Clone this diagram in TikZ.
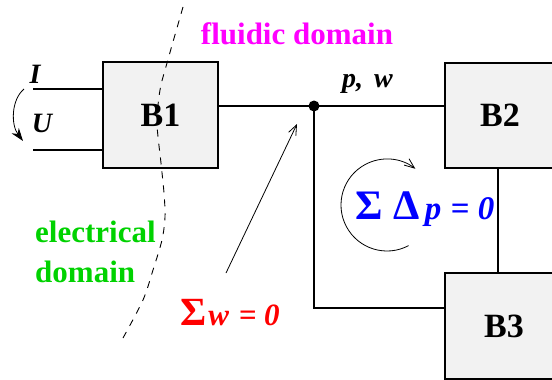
\documentclass[tikz,border=0pt]{standalone}
\usepackage{fontspec}
\setmainfont{Liberation Serif}
\usetikzlibrary{arrows.meta,calc}
\definecolor{boxgray}{RGB}{242,242,242}
\definecolor{elgreen}{RGB}{0,210,0}
\definecolor{flmag}{RGB}{255,0,255}
\definecolor{sumred}{RGB}{255,0,0}
\definecolor{sumblue}{RGB}{0,0,255}
\begin{document}
\begin{tikzpicture}[x=1pt,y=-1pt,
  block/.style={draw,line width=1.6pt,fill=boxgray,inner sep=0pt,
    font=\fontsize{34}{34}\selectfont\bfseries},
  wire/.style={line width=1.6pt},
  lbl/.style={inner sep=0pt,anchor=base},
  thinarrow/.style={line width=0.8pt,-{Straight Barb[length=10pt,width=8pt]}},
  bigfont/.style={font=\fontsize{31}{31}\selectfont\bfseries},
  varfont/.style={font=\fontsize{28}{28}\selectfont\bfseries\itshape}]
\useasboundingbox (0,0) rectangle (552,380);

% blocks
\node[block,minimum width=115pt,minimum height=106pt] (B1) at (160.5,115) {B1};
\node[block,minimum width=110pt,minimum height=105pt] (B2) at (500,115.5) {B2};
\node[block,minimum width=118pt,minimum height=106pt] (B3) at (504,326) {B3};

% electrical terminals
\coordinate (iL) at (33,89);
\coordinate (uL) at (33,150);
\draw[wire] (iL) -- (iL -| B1.west);
\draw[wire] (uL) -- (uL -| B1.west);

% fluidic network
\coordinate (j) at (314,106);
\coordinate (k) at (314,308);
\coordinate (m) at (498,0);
\draw[wire] (j -| B1.east) -- (j) -- (j -| B2.west);
\draw[wire] (j) -- (k) -- (k -| B3.west);
\draw[wire] (m |- B2.south) -- (m |- B3.north);
\fill (j) circle[radius=5.5];

% domain border
\draw[line width=0.9pt,dash pattern=on 7pt off 7pt]
  plot[smooth] coordinates {(183,7) (167,63) (160,90) (157,123) (161,163)
  (164,193) (165,217) (162,240) (153,270) (143,300) (123,338)};

% I/U arrow
\coordinate (ua) at (24,89);
\coordinate (ub) at (23,141);
\draw[line width=0.8pt,-{Stealth[length=13pt,width=9pt]}]
  (ua) .. controls (11,100) and (11,125) .. (ub);

% node-rule arrow
\coordinate (a0) at (226,273);
\coordinate (a1) at (297,124);
\draw[thinarrow] (a0) -- (a1);

% loop arrow
\coordinate (lc) at (387,205);
\draw[thinarrow] ([shift={(62:46)}]lc) arc[start angle=62,end angle=308,radius=46];

% labels
\node[lbl,varfont] (I) at (35,83) {I};
\node[lbl,varfont] (U) at (42,132) {U};
\node[lbl,font=\fontsize{28}{28}\selectfont\bfseries\itshape,anchor=base west] (pw) at (342,87) {p,\hspace{4pt} w};
\node[lbl,bigfont,text=flmag] (fl) at (297,45) {fluidic domain};
\node[lbl,bigfont,text=elgreen,anchor=base west] (el1) at (35,242) {electrical};
\node[lbl,bigfont,text=elgreen,anchor=base west] (el2) at (35,282) {domain};
\node[lbl,anchor=base west,text=sumblue] (kvl) at (355,219)
  {\fontsize{42}{42}\selectfont\bfseries Σ\hspace{11pt}Δ\hspace{5pt}{\fontsize{33}{33}\selectfont\itshape p\hspace{1pt} = 0}};
\node[lbl,anchor=base west,text=sumred] (kcl) at (180,325)
  {\fontsize{40}{40}\selectfont\bfseries Σ\hspace{2pt}{\fontsize{31}{31}\selectfont\itshape w\hspace{2pt} = 0}};
\end{tikzpicture}
\end{document}
